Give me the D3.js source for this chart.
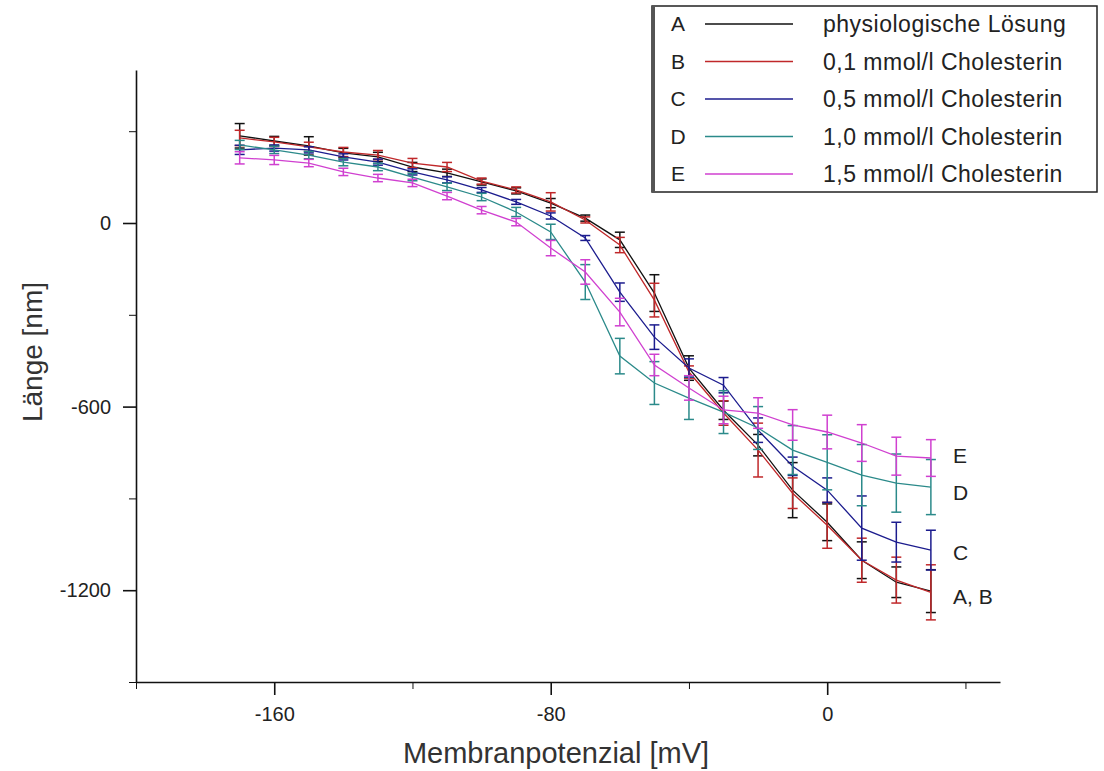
<!DOCTYPE html>
<html>
<head>
<meta charset="utf-8">
<script src="https://cdn.jsdelivr.net/npm/d3@7"></script>
<style>
    body { margin: 0; background: #fff; }
    svg { font-family: "Liberation Sans", Arial, sans-serif; }
    .axis path, .axis line { stroke: #111; }
    .axis text { fill: #222; }
</style>
</head>
<body>
<div class="chart"></div>
<script>
'use strict'

// Membrane potential (mV) for each measurement.
const potential = [-170, -160, -150, -140, -130, -120, -110, -100, -90, -80, -70,
                   -60, -50, -40, -30, -20, -10, 0, 10, 20, 30];

// Length (nm), one array per solution.
const seriesA = [285, 268, 252, 229, 216, 183, 164, 134, 105, 65, 16,
                 -55, -229, -474, -612, -726, -873, -978, -1102, -1174, -1203];
const seriesB = [278, 265, 249, 232, 222, 196, 183, 137, 108, 69, 10,
                 -72, -252, -487, -621, -742, -883, -988, -1102, -1167, -1207];
const seriesC = [239, 245, 239, 216, 199, 167, 141, 108, 69, 23, -49,
                 -226, -373, -474, -530, -677, -795, -873, -997, -1043, -1069];
const seriesD = [255, 239, 222, 199, 183, 150, 118, 85, 36, -29, -193,
                 -435, -523, -572, -618, -670, -742, -782, -824, -850, -863];
const seriesE = [213, 206, 196, 167, 147, 131, 88, 42, 3, -82, -160,
                 -291, -464, -539, -611, -621, -660, -683, -719, -762, -768];

// Standard deviations (nm).
const errA = [40, 15, 30, 15, 15, 15, 12, 10, 10, 15, 10,
              25, 60, 40, 30, 35, 90, 60, 60, 50, 70];
const errB = [25, 15, 15, 15, 15, 15, 15, 10, 10, 30, 10,
              25, 55, 20, 40, 88, 50, 75, 72, 75, 90];
const errC = [15, 10, 10, 10, 10, 10, 10, 8, 8, 10, 8,
              30, 40, 30, 25, 40, 30, 40, 105, 65, 65];
const errD = [15, 12, 12, 12, 12, 12, 12, 12, 15, 25, 57,
              58, 70, 70, 70, 70, 80, 90, 100, 95, 90];
const errE = [20, 15, 12, 12, 12, 12, 12, 12, 12, 25, 40,
              45, 35, 40, 45, 50, 50, 55, 60, 62, 60];

const letters = ['A', 'B', 'C', 'D', 'E'];
const legendNames = ['physiologische Lösung', '0,1 mmol/l Cholesterin', '0,5 mmol/l Cholesterin',
                     '1,0 mmol/l Cholesterin', '1,5 mmol/l Cholesterin'];
const colours = ['#111111', '#c0282a', '#1c1c8e', '#2b8a8a', '#d040d0'];

const xMajorTicks = [-160, -80, 0];
const xMinorTicks = [-200, -120, -40, 40];
const yMajorTicks = [0, -600, -1200];
const yMinorTicks = [300, -300, -900, -1500];

// Right-hand curve labels.
const endLabels = [
    {text: 'E', value: -760},
    {text: 'D', value: -880},
    {text: 'C', value: -1078},
    {text: 'A, B', value: -1220},
];

let allSeries = [seriesA, seriesB, seriesC, seriesD, seriesE];
let allErrors = [errA, errB, errC, errD, errE];

// Dimensions
let width = 1104,
    height = 771;

let svg = d3.select('.chart')
    .append('svg')
    .attr('width', width)
    .attr('height', height);

// Scales.
let x = d3.scaleLinear()
    .domain([-200, 50])
    .range([136, 1000]);

let y = d3.scaleLinear()
    .domain([-1500, 500])
    .range([682, 70]);

// Axes: minor ticks first, then major ticks with labels.
svg.append('g')
    .attr('class', 'axis')
    .attr('transform', `translate(0, ${y(-1500)})`)
    .call(d3.axisBottom(x).tickValues(xMinorTicks).tickSize(7).tickFormat(''))
    .call(g => g.select('.domain').remove());

svg.append('g')
    .attr('class', 'axis')
    .attr('transform', `translate(0, ${y(-1500)})`)
    .call(d3.axisBottom(x).tickValues(xMajorTicks).tickSize(13).tickSizeOuter(0)
        .tickPadding(12).tickFormat(d => String(d)))
    .call(g => g.select('.domain').attr('stroke-width', 1.6))
    .call(g => g.selectAll('line').attr('stroke-width', 1.6))
    .selectAll('text')
    .style('font-size', '20px');

svg.append('g')
    .attr('class', 'axis')
    .attr('transform', `translate(${x(-200)}, 0)`)
    .call(d3.axisLeft(y).tickValues(yMinorTicks).tickSize(7).tickFormat(''))
    .call(g => g.select('.domain').remove());

svg.append('g')
    .attr('class', 'axis')
    .attr('transform', `translate(${x(-200)}, 0)`)
    .call(d3.axisLeft(y).tickValues(yMajorTicks).tickSize(13).tickSizeOuter(0)
        .tickPadding(12).tickFormat(d => String(d)))
    .call(g => g.select('.domain').attr('stroke-width', 1.6))
    .call(g => g.selectAll('line').attr('stroke-width', 1.6))
    .selectAll('text')
    .style('font-size', '20px');

// Axis titles.
svg.append('text')
    .attr('x', 556)
    .attr('y', 763)
    .attr('text-anchor', 'middle')
    .style('font-size', '29px')
    .style('fill', '#333')
    .text('Membranpotenzial [mV]');

svg.append('text')
    .attr('transform', 'translate(42, 352) rotate(-90)')
    .attr('text-anchor', 'middle')
    .style('font-size', '28px')
    .style('fill', '#333')
    .text('Länge [nm]');

// Lines and error bars for each solution.
let line = d3.line()
    .x((d, i) => x(potential[i]))
    .y(d => y(d));

allSeries.forEach((values, s) => {
    let g = svg.append('g').attr('class', 'series-' + letters[s]);
    let errs = allErrors[s];

    g.append('path')
        .datum(values)
        .attr('fill', 'none')
        .attr('stroke', colours[s])
        .attr('stroke-width', 1.3)
        .attr('d', line);

    let bars = g.selectAll('.err')
        .data(values)
        .join('g')
        .attr('class', 'err')
        .attr('stroke', colours[s])
        .attr('stroke-width', 1.5);

    bars.append('line')
        .attr('x1', (d, i) => x(potential[i]))
        .attr('x2', (d, i) => x(potential[i]))
        .attr('y1', (d, i) => y(d + errs[i]))
        .attr('y2', (d, i) => y(d - errs[i]));

    [1, -1].forEach(sign => {
        bars.append('line')
            .attr('x1', (d, i) => x(potential[i]) - 5)
            .attr('x2', (d, i) => x(potential[i]) + 5)
            .attr('y1', (d, i) => y(d + sign * errs[i]))
            .attr('y2', (d, i) => y(d + sign * errs[i]));
    });
});

// Curve labels at the right end.
svg.append('g')
    .selectAll('text')
    .data(endLabels)
    .join('text')
    .attr('x', 953)
    .attr('y', d => y(d.value))
    .attr('dy', '0.35em')
    .style('font-size', '21px')
    .style('fill', '#222')
    .text(d => d.text);

// Legend box.
let legend = svg.append('g').attr('class', 'legend');

legend.append('rect')
    .attr('x', 652)
    .attr('y', 6)
    .attr('width', 445)
    .attr('height', 186)
    .attr('fill', '#fff')
    .attr('stroke', '#222')
    .attr('stroke-width', 1.5);

legend.append('line')
    .attr('x1', 653.5)
    .attr('x2', 653.5)
    .attr('y1', 6)
    .attr('y2', 192)
    .attr('stroke', '#555')
    .attr('stroke-width', 3);

let rows = legend.selectAll('.row')
    .data(letters)
    .join('g')
    .attr('class', 'row')
    .attr('transform', (d, i) => `translate(0, ${24 + i * 37.5})`);

rows.append('text')
    .attr('x', 678)
    .attr('dy', '0.35em')
    .attr('text-anchor', 'middle')
    .style('font-size', '21px')
    .style('fill', '#222')
    .text(d => d);

rows.append('line')
    .attr('x1', 705)
    .attr('x2', 793)
    .attr('stroke', (d, i) => colours[i])
    .attr('stroke-width', 1.5);

rows.append('text')
    .attr('x', 823)
    .attr('dy', '0.35em')
    .style('font-size', '23px')
    .style('letter-spacing', '0.5px')
    .style('fill', '#222')
    .text((d, i) => legendNames[i]);
</script>
</body>
</html>
